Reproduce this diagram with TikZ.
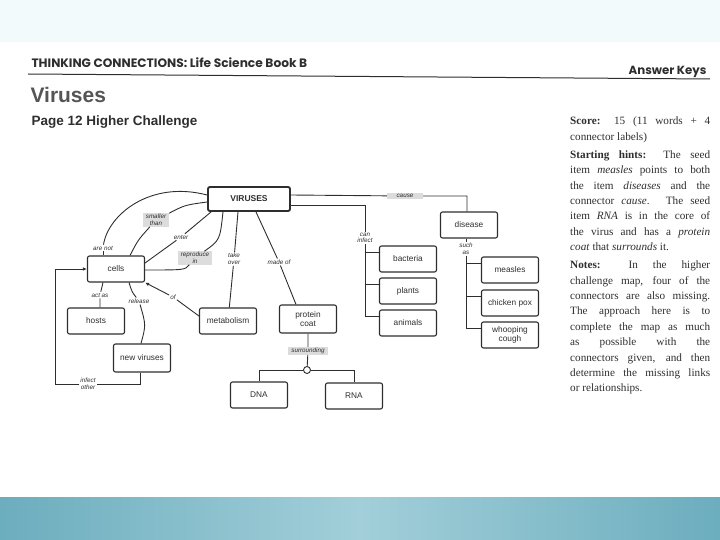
\documentclass[tikz,border=0pt]{standalone}
\usepackage{fontspec}
\setmainfont{Liberation Serif}
\setsansfont{Liberation Sans}
\newfontfamily\geofont{Poppins}
\usetikzlibrary{arrows.meta}

\definecolor{slidetop}{HTML}{F3FAFB}
\definecolor{bandedge}{HTML}{6CADBE}
\definecolor{bandmid}{HTML}{A2CFD9}
\definecolor{ink}{HTML}{2E2E2E}
\definecolor{titlegray}{HTML}{555555}
\definecolor{tagfill}{HTML}{DCDCDC}

\newcommand\jline[1]{\makebox[140pt][s]{#1}}

\begin{document}
\begin{tikzpicture}[x=1pt, y=-1pt, >={Latex[length=4pt,width=3.5pt]},
  concept/.style={draw=ink, line width=1.1pt, rounded corners=2pt, minimum width=57pt,
    minimum height=26pt, inner sep=1pt, align=center, text=ink,
    font=\sffamily\fontsize{8.3}{9.3}\selectfont},
  linkword/.style={fill=white, inner sep=1pt, align=center, text=ink,
    font=\sffamily\itshape\fontsize{6.3}{6.6}\selectfont},
  graytag/.style={linkword, fill=tagfill, inner xsep=3pt},
  wire/.style={draw=ink, line width=0.9pt}]

  % Slide background
  \useasboundingbox (0,0) rectangle (720,540);
  \fill[slidetop] (0,0) rectangle (720,42);
  \shade[left color=bandedge, right color=bandedge, middle color=bandmid] (0,497) rectangle (720,540);

  % Page heading
  \node[anchor=base west, text=ink, font=\geofont\bfseries\fontsize{12.2}{12}\selectfont] (book) at (28,68) {THINKING CONNECTIONS: Life Science Book B};
  \node[anchor=base east, text=ink, font=\geofont\bfseries\fontsize{11.8}{12}\selectfont] (keys) at (710,75) {Answer Keys};
  \draw[ink, line width=1pt] (28,74) -- (710,79);
  \node[anchor=base west, text=titlegray, font=\sffamily\bfseries\fontsize{21}{21}\selectfont] (topic) at (27,103) {Viruses};
  \node[anchor=base west, text=ink, font=\sffamily\bfseries\fontsize{13.5}{14}\selectfont] (page) at (28,126) {Page 12 Higher Challenge};

  % Concept boxes
  \node[concept, minimum width=82pt, minimum height=24pt, line width=1.9pt,
    font=\sffamily\bfseries\fontsize{8.5}{9}\selectfont] (viruses) at (249,199) {VIRUSES};
  \node[concept] (disease) at (469,225) {disease};
  \node[concept] (bacteria) at (408,259) {bacteria};
  \node[concept] (plants) at (408,291) {plants};
  \node[concept] (animals) at (408,323) {animals};
  \node[concept] (measles) at (510,270) {measles};
  \node[concept] (chickenpox) at (510,303) {chicken pox};
  \node[concept] (whooping) at (510,335) {whooping\\cough};
  \node[concept] (cells) at (116,269) {cells};
  \node[concept] (hosts) at (96,321) {hosts};
  \node[concept] (metabolism) at (228,321) {metabolism};
  \node[concept, minimum height=28pt] (coat) at (308,319) {protein\\coat};
  \node[concept, minimum height=28pt] (newvir) at (142,358) {new viruses};
  \node[concept] (dna) at (259,395) {DNA};
  \node[concept] (rna) at (354,396) {RNA};

  % Linking words
  \node[graytag] (smaller) at (156,220) {smaller\\than};
  \node[linkword] (enter) at (181,237) {enter};
  \node[linkword] (arenot) at (103,248) {are not};
  \node[graytag] (reproduce) at (195,258) {reproduce\\in};
  \node[linkword] (takeover) at (234,259) {take\\over};
  \node[linkword] (madeof) at (279,262) {made of};
  \node[graytag, minimum width=36pt] (cause) at (405,196) {cause};
  \node[linkword] (caninfect) at (365,238) {can\\infect};
  \node[linkword] (suchas) at (466,249) {such\\as};
  \node[linkword] (actas) at (100,295) {act as};
  \node[linkword] (release) at (139,301) {release};
  \node[linkword] (of) at (173,297) {of};
  \node[graytag] (surround) at (308,351) {surrounding};
  \node[linkword] (infect) at (88,384) {infect\\other};
  \node[draw=ink, line width=0.9pt, circle, fill=white, inner sep=0pt, minimum size=7pt] (knot) at (307,370) {};
  \coordinate (loop) at (55,384);

  % VIRUSES to the right
  \draw[wire] ([yshift=4pt]viruses.east) -- (cause) -| ([xshift=-2pt]disease.north);
  \draw[wire] ([yshift=-6pt]viruses.east) -| (caninfect);
  \foreach \n in {bacteria, plants, animals}
    \draw[wire] (caninfect) |- ([yshift=7pt]\n.west);
  \draw[wire] ([xshift=-3pt]disease.south) -- (suchas);
  \foreach \n in {measles, chickenpox, whooping}
    \draw[wire] (suchas) |- ([yshift=7pt]\n.west);

  % VIRUSES to the left
  \draw[wire] ([yshift=4pt]viruses.west) .. controls (150,180) and (108,215) .. (arenot);
  \draw[wire] (arenot) -- (arenot |- cells.north);
  \draw[wire] ([yshift=-3pt]viruses.west) .. controls (185,205) .. (smaller);
  \draw[wire] (smaller) .. controls (138,240) .. ([xshift=14pt]cells.north);
  \draw[wire] ([xshift=4pt]viruses.south west) -- (enter) -- ([yshift=6pt]cells.east);
  \draw[wire] ([xshift=-26pt]viruses.south) .. controls (220,240) .. (reproduce);
  \draw[wire] (reproduce) .. controls (185,270) .. ([yshift=-1pt]cells.east);
  \draw[wire] ([xshift=-11pt]viruses.south) -- (takeover) -- (metabolism);
  \draw[wire] ([xshift=7pt]viruses.south) -- (madeof) -- ([xshift=-12pt]coat.north);

  % Around the cells
  \draw[wire, ->] ([yshift=5pt]metabolism.west) -- (of) -- (cells.south east);
  \draw[wire] ([xshift=-13pt]cells.south) -- (actas) -- ([xshift=4pt]hosts.north);
  \draw[wire] ([xshift=13pt]cells.south) .. controls (132,292) .. (release);
  \draw[wire] (release) .. controls (146,325) .. ([xshift=-1pt]newvir.north);
  \draw[wire] ([xshift=-2pt]newvir.south) |- (infect);
  \draw[wire, ->] (infect) -- (infect -| loop) |- (cells.west);

  % Core of the virus
  \draw[wire] (coat) -- (surround) -- (knot);
  \draw[wire] (knot) -| (dna);
  \draw[wire] (knot) -| (rna);

  % Answer notes
  \node[anchor=north west, align=left, inner sep=0pt, text=ink,
    font=\fontsize{11.2}{15.4}\selectfont] (notes) at (570,117) {%
    \jline{\textbf{Score:} 15 (11 words + 4}\\
    connector labels)\\[2.6pt]
    \jline{\textbf{Starting hints:} The seed}\\
    \jline{item \textit{measles} points to both}\\
    \jline{the item \textit{diseases} and the}\\
    \jline{connector \textit{cause}. The seed}\\
    \jline{item \textit{RNA} is in the core of}\\
    \jline{the virus and has a \textit{protein}}\\
    \textit{coat} that \textit{surrounds} it.\\[2.6pt]
    \jline{\textbf{Notes:} In the higher}\\
    \jline{challenge map, four of the}\\
    \jline{connectors are also missing.}\\
    \jline{The approach here is to}\\
    \jline{complete the map as much}\\
    \jline{as possible with the}\\
    \jline{connectors given, and then}\\
    \jline{determine the missing links}\\
    or relationships.};
\end{tikzpicture}
\end{document}
